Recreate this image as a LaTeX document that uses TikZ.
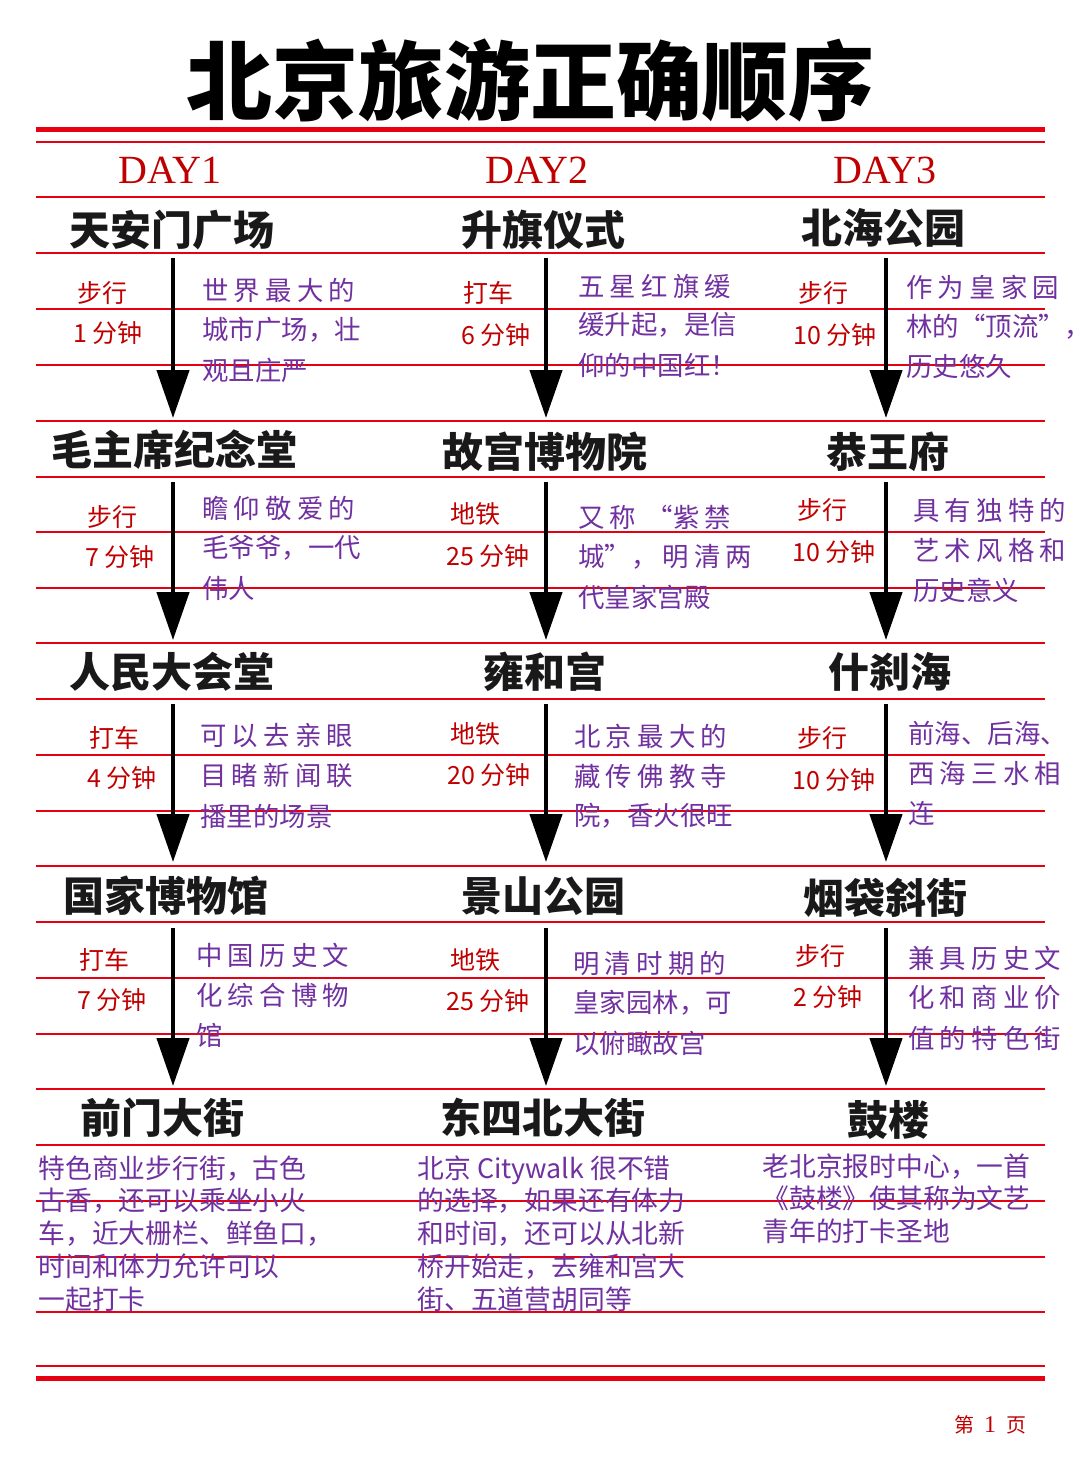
\documentclass[tikz,border=0pt]{standalone}
\usepackage{fontspec}
\setmainfont{Noto Sans CJK SC}
\newfontfamily\serifen{Liberation Serif}
\usetikzlibrary{arrows.meta}
\definecolor{rd}{HTML}{E60012}
\definecolor{dkred}{HTML}{C00000}
\definecolor{pur}{HTML}{7030A0}
\newcommand{\gapc}{\hspace{2.6pt}}
\tikzset{
  rl/.style={draw=rd,line width=1pt},
  place/.style={font=\fontsize{20.5}{20.5}\selectfont\bfseries,text=black!90,inner sep=0},
  trans/.style={font=\fontsize{12.5}{12.5}\selectfont,text=dkred,inner sep=0},
  desc/.style={font=\fontsize{13.2}{13.2}\selectfont,text=pur,inner sep=0,anchor=west},
  dayt/.style={font=\serifen\fontsize{20}{20}\selectfont,text=dkred,inner sep=0},
  arr/.style={line width=2.2pt,-{Triangle[width=16pt,length=24pt]}}
}
\begin{document}
\begin{tikzpicture}[x=0.5pt,y=-0.5pt]
\useasboundingbox (0,0) rectangle (1080,1466);
\node[font=\fontsize{43}{43}\selectfont\bfseries,inner sep=0] (title) at (530,80) {北京旅游正确顺序};
\draw[draw=rd,line width=2.5pt] (36,130)--(1045,130);
\draw[draw=rd,line width=2.5pt] (36,1378)--(1045,1378);
\draw[rl] (36,1366)--(1045,1366);
\foreach \y in {142,197,253,309,365,421,477,532,588,643,699,755,811,866,922,978,1034,1089,1145,1201,1257,1312}
  \draw[rl] (36,\y)--(1045,\y);
\node[dayt] (d1) at (170,170) {DAY1};
\node[dayt] (d2) at (537,170) {DAY2};
\node[dayt] (d3) at (885,170) {DAY3};
% places
\node[place] (p11) at (172,230) {天安门广场};
\node[place] (p21) at (174,450) {毛主席纪念堂};
\node[place] (p31) at (172,672) {人民大会堂};
\node[place] (p41) at (166,896) {国家博物馆};
\node[place] (p51) at (162,1118) {前门大街};
\node[place] (p12) at (543,230) {升旗仪式};
\node[place] (p22) at (545,452) {故宫博物院};
\node[place] (p32) at (545,672) {雍和宫};
\node[place] (p42) at (543,896) {景山公园};
\node[place] (p52) at (543,1118) {东四北大街};
\node[place] (p13) at (883,228) {北海公园};
\node[place] (p23) at (888,452) {恭王府};
\node[place] (p33) at (890,672) {什刹海};
\node[place] (p43) at (885,898) {烟袋斜街};
\node[place] (p53) at (888,1120) {鼓楼};
% arrows
\foreach \c/\x in {1/173,2/546,3/886}{
  \coordinate (a1\c) at (\x,258); \coordinate (b1\c) at (\x,418);
  \coordinate (a2\c) at (\x,482); \coordinate (b2\c) at (\x,640);
  \coordinate (a3\c) at (\x,704); \coordinate (b3\c) at (\x,862);
  \coordinate (a4\c) at (\x,928); \coordinate (b4\c) at (\x,1086);
}
\foreach \r in {1,2,3,4}{\foreach \c in {1,2,3}{\draw[arr] (a\r\c)--(b\r\c);}}
% col1 transport
\node[trans] (t11a) at (102,293) {步行}; \node[trans] (t11b) at (108,333) {1 分钟};
\node[trans] (t21a) at (112,517) {步行}; \node[trans] (t21b) at (120,557) {7 分钟};
\node[trans] (t31a) at (114,738) {打车}; \node[trans] (t31b) at (122,778) {4 分钟};
\node[trans] (t41a) at (104,960) {打车}; \node[trans] (t41b) at (112,1000) {7 分钟};
% col2
\node[trans] (t12a) at (488,293) {打车}; \node[trans] (t12b) at (496,335) {6 分钟};
\node[trans] (t22a) at (475,514) {地铁}; \node[trans] (t22b) at (488,556) {25 分钟};
\node[trans] (t32a) at (475,734) {地铁}; \node[trans] (t32b) at (489,775) {20 分钟};
\node[trans] (t42a) at (475,960) {地铁}; \node[trans] (t42b) at (488,1001) {25 分钟};
% col3
\node[trans] (t13a) at (823,293) {步行}; \node[trans] (t13b) at (835,335) {10 分钟};
\node[trans] (t23a) at (822,510) {步行}; \node[trans] (t23b) at (834,552) {10 分钟};
\node[trans] (t33a) at (822,738) {步行}; \node[trans] (t33b) at (834,780) {10 分钟};
\node[trans] (t43a) at (820,956) {步行}; \node[trans] (t43b) at (828,997) {2 分钟};
% descriptions col1
\node[desc] (e11a) at (202,290) {世\gapc 界\gapc 最\gapc 大\gapc 的};
\node[desc] (e11b) at (202,330) {城市广场，壮};
\node[desc] (e11c) at (202,370) {观且庄严};
\node[desc] (e21a) at (202,508) {瞻\gapc 仰\gapc 敬\gapc 爱\gapc 的};
\node[desc] (e21b) at (202,548) {毛爷爷，一代};
\node[desc] (e21c) at (202,588) {伟人};
\node[desc] (e31a) at (200,736) {可\gapc 以\gapc 去\gapc 亲\gapc 眼};
\node[desc] (e31b) at (200,776) {目\gapc 睹\gapc 新\gapc 闻\gapc 联};
\node[desc] (e31c) at (200,816) {播里的场景};
\node[desc] (e41a) at (196,955) {中\gapc 国\gapc 历\gapc 史\gapc 文};
\node[desc] (e41b) at (196,995) {化\gapc 综\gapc 合\gapc 博\gapc 物};
\node[desc] (e41c) at (196,1035) {馆};
% col2
\node[desc] (e12a) at (578,286) {五\gapc 星\gapc 红\gapc 旗\gapc 缓};
\node[desc] (e12b) at (578,325) {缓升起，是信};
\node[desc] (e12c) at (578,365) {仰的中国红！};
\node[desc] (e22a) at (578,517) {又\gapc 称\gapc\gapc “紫\gapc 禁};
\node[desc] (e22b) at (578,557) {城”，\gapc 明\gapc 清\gapc 两};
\node[desc] (e22c) at (578,597) {代皇家宫殿};
\node[desc] (e32a) at (574,736) {北\gapc 京\gapc 最\gapc 大\gapc 的};
\node[desc] (e32b) at (574,776) {藏\gapc 传\gapc 佛\gapc 教\gapc 寺};
\node[desc] (e32c) at (574,816) {院，香火很旺};
\node[desc] (e42a) at (573,963) {明\gapc 清\gapc 时\gapc 期\gapc 的};
\node[desc] (e42b) at (573,1003) {皇家园林，可};
\node[desc] (e42c) at (573,1043) {以俯瞰故宫};
% col3
\node[desc] (e13a) at (906,287) {作\gapc 为\gapc 皇\gapc 家\gapc 园};
\node[desc] (e13b) at (906,327) {林的“顶流”，};
\node[desc] (e13c) at (906,367) {历史悠久};
\node[desc] (e23a) at (913,510) {具\gapc 有\gapc 独\gapc 特\gapc 的};
\node[desc] (e23b) at (913,550) {艺\gapc 术\gapc 风\gapc 格\gapc 和};
\node[desc] (e23c) at (913,590) {历史意义};
\node[desc] (e33a) at (908,733) {前海、后海、};
\node[desc] (e33b) at (908,773) {西\gapc 海\gapc 三\gapc 水\gapc 相};
\node[desc] (e33c) at (908,813) {连};
\node[desc] (e43a) at (908,958) {兼\gapc 具\gapc 历\gapc 史\gapc 文};
\node[desc] (e43b) at (908,998) {化\gapc 和\gapc 商\gapc 业\gapc 价};
\node[desc] (e43c) at (908,1038) {值\gapc 的\gapc 特\gapc 色\gapc 街};
% row5
\node[desc,align=left,anchor=north west,font=\fontsize{13.4}{16.4}\selectfont] (e51) at (38,1155)
 {特色商业步行街，古色\\古香，还可以乘坐小火\\车，近大栅栏、鲜鱼口，\\时间和体力允许可以\\一起打卡};
\node[desc,align=left,anchor=north west,font=\fontsize{13.4}{16.4}\selectfont] (e52) at (417,1155)
 {北京 Citywalk 很不错\\的选择，如果还有体力\\和时间，还可以从北新\\桥开始走，去雍和宫大\\街、五道营胡同等};
\node[desc,align=left,anchor=north west,font=\fontsize{13.4}{16.4}\selectfont] (e53) at (762,1153)
 {老北京报时中心，一首\\《鼓楼》使其称为文艺\\青年的打卡圣地};
\node[trans,font=\fontsize{10}{10}\selectfont] (pg) at (990,1425) {第\,\,\,{\serifen\fontsize{12}{12}\selectfont 1}\,\,\,页};
\end{tikzpicture}
\end{document}
